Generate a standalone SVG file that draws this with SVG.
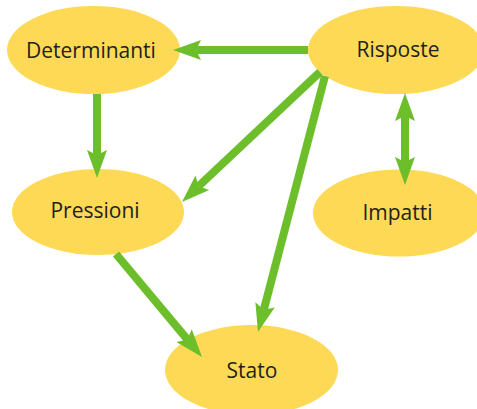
<svg xmlns="http://www.w3.org/2000/svg" width="477" height="409" viewBox="0 0 477 409">
<style>
.node{fill:#FDD956;}
.lbl{font-family:"Open Sans","Noto Sans",sans-serif;font-size:21px;fill:#231F20;text-anchor:middle;}
.edge{stroke:#6DBE2B;stroke-width:8;fill:none;}
</style>
<defs>
<marker id="ah" markerUnits="userSpaceOnUse" markerWidth="30" markerHeight="24" viewBox="0 -12 30 24" refX="5" refY="0" orient="auto-start-reverse">
<path d="M0,-10 L28,0 L0,10 L5,0 Z" fill="#6DBE2B"/>
</marker>
</defs>
<rect width="477" height="409" fill="#ffffff"/>
<g id="determinanti"><ellipse class="node" cx="93.5" cy="50" rx="86.5" ry="44"/><text class="lbl" x="91" y="58">Determinanti</text></g>
<g id="risposte"><ellipse class="node" cx="396" cy="50" rx="88" ry="44"/><text class="lbl" x="398" y="57">Risposte</text></g>
<g id="pressioni"><ellipse class="node" cx="98" cy="212" rx="86" ry="43"/><text class="lbl" x="95" y="218">Pressioni</text></g>
<g id="impatti"><ellipse class="node" cx="399" cy="213" rx="86" ry="43.5"/><text class="lbl" x="397.5" y="220">Impatti</text></g>
<g id="stato"><ellipse class="node" cx="251.5" cy="370" rx="86.5" ry="45"/><text class="lbl" x="252" y="378">Stato</text></g>
<g id="connectors">
<path class="edge" d="M308,50 L196,50" marker-end="url(#ah)"/>
<path class="edge" d="M97,94 L97,155" marker-end="url(#ah)"/>
<path class="edge" d="M320,72 L198.7,186.2" marker-end="url(#ah)"/>
<path class="edge" d="M325,76 L263.8,309.7" marker-end="url(#ah)"/>
<path class="edge" d="M116,254 L187.3,339.4" marker-end="url(#ah)"/>
<path class="edge" d="M405,116 L405,162" marker-start="url(#ah)" marker-end="url(#ah)"/>
</g>
</svg>
